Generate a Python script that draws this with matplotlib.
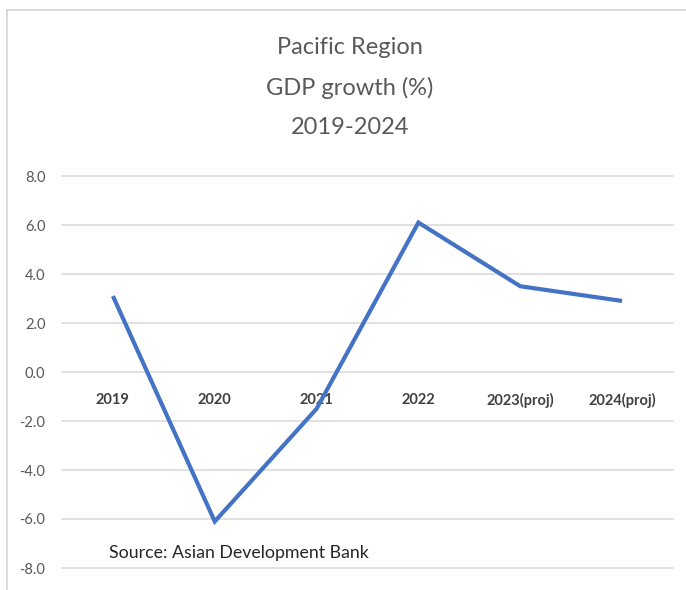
import matplotlib
matplotlib.use("Agg")
import matplotlib.pyplot as plt
from matplotlib.lines import Line2D

# GDP growth for the Pacific region
years = ["2019", "2020", "2021", "2022", "2023(proj)", "2024(proj)"]
growth = [3.1, -6.1, -1.5, 6.1, 3.5, 2.9]
y_ticks = [8.0, 6.0, 4.0, 2.0, 0.0, -2.0, -4.0, -6.0, -8.0]
title_lines = ["Pacific Region", "GDP growth (%)", "2019-2024"]
source_note = "Source: Asian Development Bank"

W, H = 686, 590
fig = plt.figure(figsize=(W / 100, H / 100), dpi=100)
fig.patch.set_facecolor("white")

font = "Lato"

# chart frame (top and left edges visible)
frame_color = "#d4d4d4"
fig.add_artist(Line2D([7 / W, 1.0], [1 - 10 / H, 1 - 10 / H], color=frame_color, lw=1.2))
fig.add_artist(Line2D([7 / W, 7 / W], [0.0, 1 - 10 / H], color=frame_color, lw=1.2))

ax = fig.add_axes([62 / W, 1 - 568 / H, 611 / W, 392 / H])
ax.set_xlim(-0.5, len(years) - 0.5)
ax.set_ylim(-8, 8)
for s in ax.spines.values():
    s.set_visible(False)

for t in y_ticks:
    ax.axhline(t, color="#d9d9d9", lw=1.1, zorder=1, clip_on=False)

ax.set_yticks(y_ticks)
ax.set_yticklabels([f"{t:.1f}" for t in y_ticks], fontsize=10.5, color="#595959", family=font)
ax.tick_params(axis="y", length=0, pad=12)
ax.set_xticks([])

ax.plot(range(len(years)), growth, color="#4472C4", lw=3.0, zorder=3,
        solid_joinstyle="miter", solid_capstyle="butt", clip_on=False)

for i, lab in enumerate(years):
    ax.annotate(lab, (i, 0), xytext=(0, -28), textcoords="offset pixels",
                ha="center", va="center", fontsize=10.5, fontweight="bold",
                color="#404040", family=font, zorder=2)

title_y = [48, 88, 127]
for txt, yp in zip(title_lines, title_y):
    fig.text(350 / W, 1 - yp / H, txt, ha="center", va="center",
             fontsize=17, color="#595959", family=font)

fig.text(109 / W, 1 - 553 / H, source_note, ha="left", va="center",
         fontsize=12.8, color="#262626", family=font)

fig.savefig("out.png", dpi=100, facecolor="white")
